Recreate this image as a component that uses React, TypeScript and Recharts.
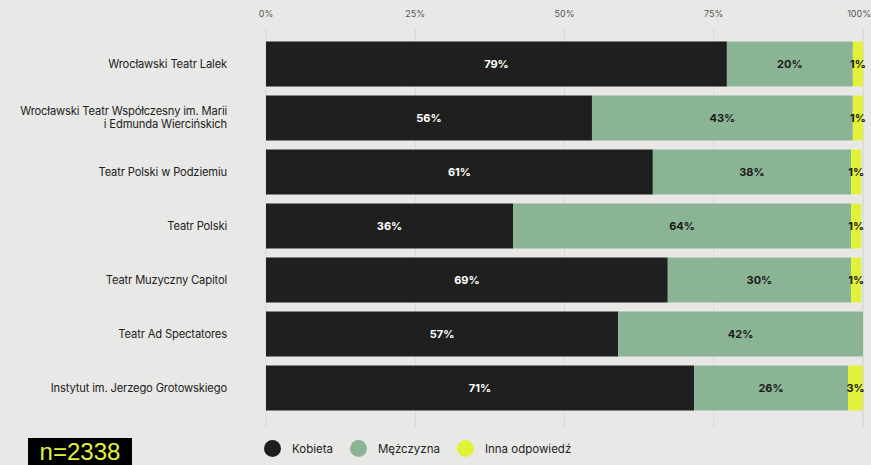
import React from 'react';
import { BarChart, Bar, XAxis, YAxis, CartesianGrid, LabelList } from 'recharts';

const categories = [
  'Wrocławski Teatr Lalek',
  'Wrocławski Teatr Współczesny im. Marii\ni Edmunda Wiercińskich',
  'Teatr Polski w Podziemiu',
  'Teatr Polski',
  'Teatr Muzyczny Capitol',
  'Teatr Ad Spectatores',
  'Instytut im. Jerzego Grotowskiego',
];

// bar lengths as drawn in the picture
const kobieta = [77.2, 54.6, 64.8, 41.4, 67.3, 59.0, 71.7];
const mezczyzna = [21.1, 43.7, 33.2, 56.6, 30.7, 41.0, 25.8];
const inna = [1.7, 1.7, 1.7, 1.7, 1.7, 0, 2.5];

// printed labels
const kobietaLabels = ['79%', '56%', '61%', '36%', '69%', '57%', '71%'];
const mezczyznaLabels = ['20%', '43%', '38%', '64%', '30%', '42%', '26%'];
const innaLabels = ['1%', '1%', '1%', '1%', '1%', '', '3%'];

const xTicks = [0, 25, 50, 75, 100];

const COLORS = { kobieta: '#1f1f1f', mezczyzna: '#8bb494', inna: '#e2f23a' };
const BG = '#e8e9e6';
const FONT = 'Inter, "DejaVu Sans", sans-serif';

const data = categories.map((name, i) => ({
  name,
  kobieta: kobieta[i],
  mezczyzna: mezczyzna[i],
  inna: inna[i],
  kLabel: kobietaLabels[i],
  mLabel: mezczyznaLabels[i],
  iLabel: innaLabels[i],
}));

const legendItems = [
  { label: 'Kobieta', color: COLORS.kobieta },
  { label: 'Mężczyzna', color: COLORS.mezczyzna },
  { label: 'Inna odpowiedź', color: COLORS.inna },
];

const CategoryTick = (props: any) => {
  const { y, payload } = props;
  const lines: string[] = String(payload.value).split('\n');
  const lh = 12.5;
  const start = -((lines.length - 1) * lh) / 2;
  return (
    <text
      x={227}
      y={y}
      textAnchor="end"
      fill="#222"
      fontSize={11.2}
      fontFamily={FONT}
      letterSpacing={-0.15}
    >
      {lines.map((l, i) => (
        <tspan key={i} x={227} dy={i === 0 ? start + 4 : lh}>
          {l}
        </tspan>
      ))}
    </text>
  );
};

const PercentTick = (props: any) => {
  const { x, payload } = props;
  const last = payload.value === 100;
  return (
    <text
      x={last ? 871 : x}
      y={17}
      textAnchor={last ? 'end' : 'middle'}
      fill="#555"
      fontSize={9}
      fontFamily={FONT}
    >
      {payload.value}%
    </text>
  );
};

const labelStyle = { fontSize: 11, fontWeight: 700, fontFamily: FONT };

export default function App() {
  return (
    <div style={{ position: 'absolute', left: 0, top: 0, width: 871, height: 465, background: BG, overflow: 'hidden' }}>
      <BarChart
        width={871}
        height={465}
        data={data}
        layout="vertical"
        margin={{ top: 0, right: 8, bottom: 37, left: 0 }}
        barSize={45}
      >
        <CartesianGrid horizontal={false} stroke="#d8d9d6" />
        <XAxis
          type="number"
          orientation="top"
          domain={[0, 100]}
          ticks={xTicks}
          height={28}
          axisLine={false}
          tickLine={false}
          tick={<PercentTick />}
          interval={0}
        />
        <YAxis
          type="category"
          dataKey="name"
          width={266}
          axisLine={false}
          tickLine={false}
          tick={<CategoryTick />}
          padding={{ top: 8.5, bottom: 13.5 }}
          interval={0}
        />
        <Bar dataKey="kobieta" stackId="a" fill={COLORS.kobieta} isAnimationActive={false}>
          <LabelList dataKey="kLabel" position="center" fill="#ffffff" style={labelStyle} />
        </Bar>
        <Bar dataKey="mezczyzna" stackId="a" fill={COLORS.mezczyzna} isAnimationActive={false}>
          <LabelList dataKey="mLabel" position="center" fill="#1a1a1a" style={labelStyle} />
        </Bar>
        <Bar dataKey="inna" stackId="a" fill={COLORS.inna} isAnimationActive={false}>
          <LabelList dataKey="iLabel" position="center" fill="#1a1a1a" style={labelStyle} />
        </Bar>
      </BarChart>
      <div
        style={{
          position: 'absolute',
          left: 264,
          top: 440,
          display: 'flex',
          alignItems: 'center',
          fontFamily: FONT,
          fontSize: 11.5,
          color: '#222',
        }}
      >
        {legendItems.map((it) => (
          <div key={it.label} style={{ display: 'flex', alignItems: 'center', marginRight: 17 }}>
            <span
              style={{
                width: 17,
                height: 17,
                borderRadius: '50%',
                background: it.color,
                display: 'inline-block',
                marginRight: 11,
              }}
            />
            <span>{it.label}</span>
          </div>
        ))}
      </div>
      <div
        style={{
          position: 'absolute',
          left: 28,
          top: 438,
          width: 104,
          height: 27,
          background: '#000',
          color: '#e2f23a',
          fontFamily: '"Liberation Sans", Arial, sans-serif',
          fontSize: 24,
          lineHeight: '28px',
          textAlign: 'center',
          overflow: 'hidden',
        }}
      >
        n=2338
      </div>
    </div>
  );
}
